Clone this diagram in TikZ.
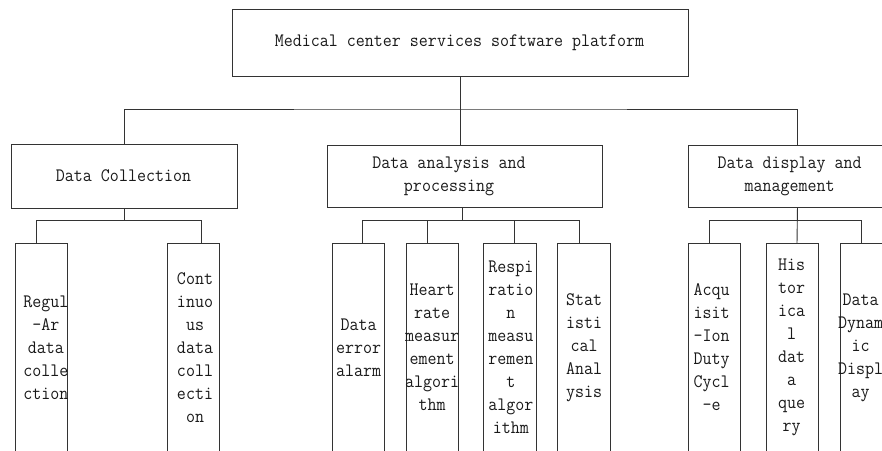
\documentclass[tikz,border=0pt]{standalone}
\usepackage{fontspec}
\newfontfamily\boxfont[FakeStretch=0.92]{Latin Modern Mono}
\begin{document}
\begin{tikzpicture}[x=1pt,y=-1pt,
  box/.style={draw=black!80, line width=0.9pt, anchor=north west, inner sep=0pt},
  leaf/.style={box, minimum width=52.3pt, minimum height=210pt},
  txt/.style={font=\boxfont\fontsize{19}{23}\selectfont, align=center, inner sep=0pt, text=black!90},
  wire/.style={draw=black!80, line width=0.9pt}]
\useasboundingbox (0,0) rectangle (882,450);

% root
\node[box, minimum width=456pt, minimum height=66.7pt] (root) at (232,9.3) {};
\node[txt] (roott) at (459.5,43) {Medical center services software platform};

% second level
\node[box, minimum width=226pt, minimum height=64.3pt] (dc) at (10.7,144) {};
\node[txt] (dct) at (123.5,176) {Data Collection};
\node[box, minimum width=274.4pt, minimum height=62.3pt] (da) at (327.3,145) {};
\node[txt] (dat) at (449,176) {Data analysis and\\processing};
\node[box, minimum width=218.6pt, minimum height=62.3pt] (dd) at (687.7,145) {};
\node[txt] (ddt) at (789.7,176) {Data display and\\management};

% leaves
\node[leaf] (l1) at (15,243.3) {};
\node[txt] (l1t) at (45.8,347.5) {Regul\\-Ar\\data\\colle\\ction};
\node[leaf] (l2) at (166.7,243.3) {};
\node[txt] (l2t) at (195,347.5) {Cont\\inuo\\us\\data\\coll\\ecti\\on};
\node[leaf] (l3) at (331.7,243.3) {};
\node[txt] (l3t) at (358.7,347.5) {Data\\error\\alarm};
\node[leaf] (l4) at (405.7,243.3) {};
\node[txt] (l4t) at (432,347.5) {Heart\\rate\\measur\\ement\\algori\\thm};
\node[leaf] (l5) at (483.3,243.3) {};
\node[txt] (l5t) at (510.8,347.5) {Respi\\ratio\\n\\measu\\remen\\t\\algor\\ithm};
\node[leaf] (l6) at (557.3,243.3) {};
\node[txt] (l6t) at (584.2,347.5) {Stat\\isti\\cal\\Anal\\ysis};
\node[leaf] (l7) at (687.7,243.3) {};
\node[txt] (l7t) at (711.7,347.5) {Acqu\\isit\\-Ion\\Duty\\Cycl\\-e};
\node[leaf] (l8) at (766,243.3) {};
\node[txt] (l8t) at (791.7,347.5) {His\\tor\\ica\\l\\dat\\a\\que\\ry};
\node[leaf] (l9) at (840,243.3) {};
\node[txt] (l9t) at (860.5,347.5) {Data\\Dynam\\ic\\Displ\\ay};

% root to second level
\coordinate (busR) at (460,109);
\draw[wire] (root.south -| busR) -- (busR);
\draw[wire] (dc.north) |- (busR) -| (dd.north);
\draw[wire] (busR) -- (busR |- da.north);

% data collection branch
\coordinate (c1) at (36.7,220);
\coordinate (c2) at (201.7,220);
\draw[wire] (dc.south) -- (dc.south |- c1);
\draw[wire] (c1 |- l1.north) -- (c1) -- (c2) -- (c2 |- l2.north);

% analysis branch
\coordinate (a1) at (362.3,220);
\coordinate (a2) at (427.3,220);
\coordinate (a3) at (514.3,220);
\coordinate (a4) at (579.3,220);
\draw[wire] (da.south -| 462.3,0) -- (462.3,220);
\draw[wire] (a1 |- l3.north) -- (a1) -- (a4) -- (a4 |- l6.north);
\draw[wire] (a2) -- (a2 |- l4.north);
\draw[wire] (a3) -- (a3 |- l5.north);

% display branch
\coordinate (d1) at (709.3,220);
\coordinate (d2) at (797,220);
\coordinate (d3) at (861,220);
\draw[wire] (dd.south) -- (d2 |- l8.north);
\draw[wire] (d1 |- l7.north) -- (d1) -- (d3) -- (d3 |- l9.north);
\end{tikzpicture}
\end{document}
